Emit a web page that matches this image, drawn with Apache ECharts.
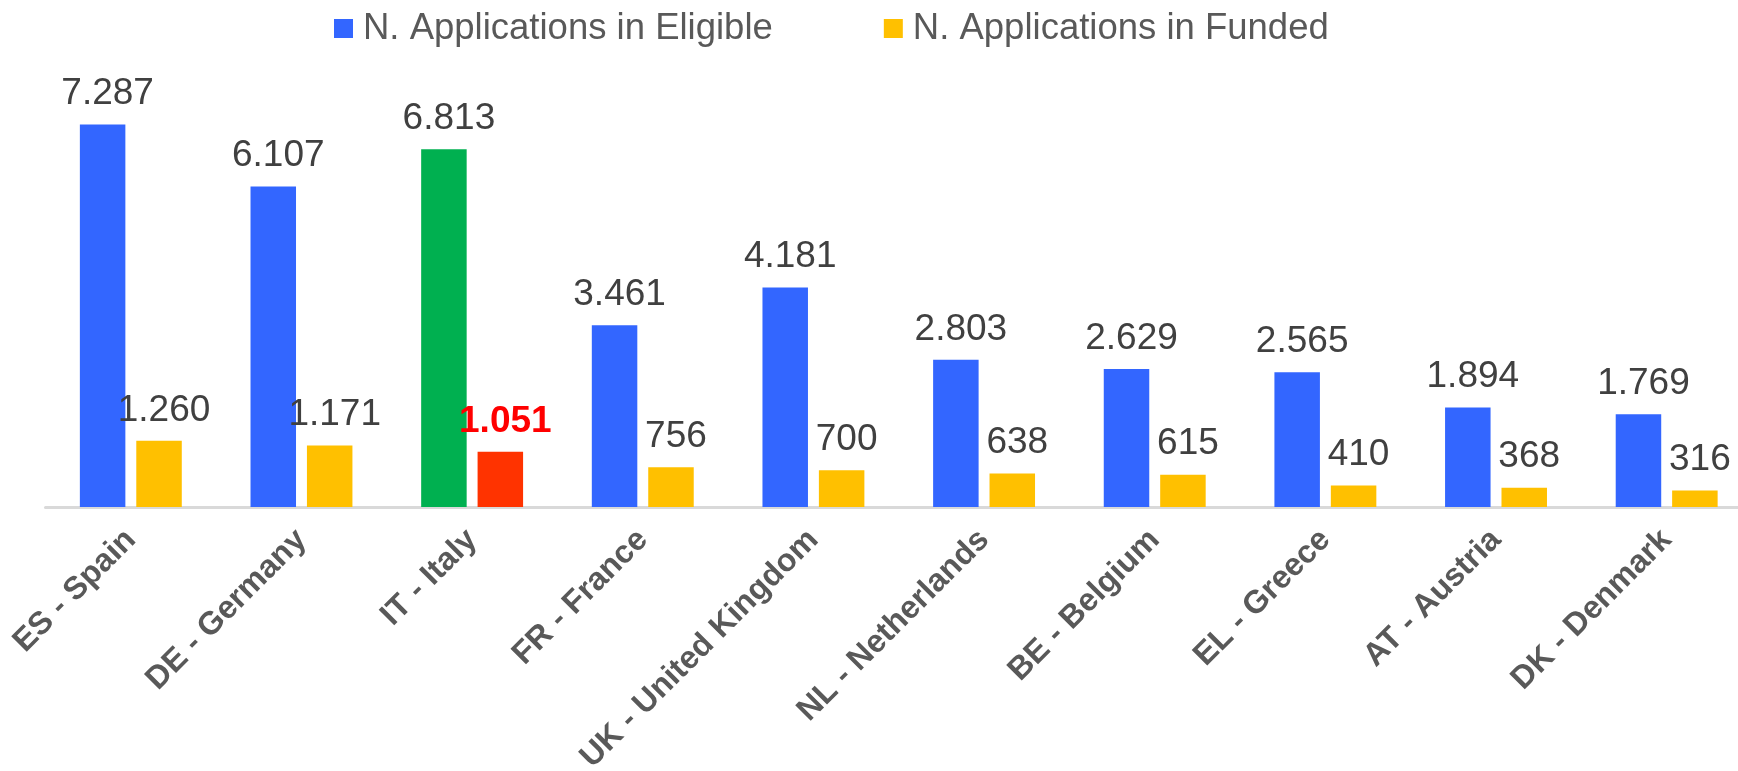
<!DOCTYPE html>
<html>
<head>
<meta charset="utf-8">
<title>Applications</title>
<script src="https://cdn.jsdelivr.net/npm/echarts@6/dist/echarts.min.js"></script>
<style>
    html, body { margin: 0; padding: 0; background: #fff; }
    #chart { width: 1738px; height: 771px; }
</style>
</head>
<body>
<div id="chart"></div>
<script>
//数据
var countries = ['ES - Spain', 'DE - Germany', 'IT - Italy', 'FR - France', 'UK - United Kingdom',
    'NL - Netherlands', 'BE - Belgium', 'EL - Greece', 'AT - Austria', 'DK - Denmark'];
var eligible = [7287, 6107, 6813, 3461, 4181, 2803, 2629, 2565, 1894, 1769];
var funded = [1260, 1171, 1051, 756, 700, 638, 615, 410, 368, 316];
var seriesNames = ['N. Applications in Eligible', 'N. Applications in Funded'];
var highlight = 'IT - Italy';

//初始化图表
var myChart = echarts.init(document.getElementById('chart'));

//千位分隔符用点
function fmt(v){
    return String(v).replace(/\B(?=(\d{3})+(?!\d))/g, '.');
}

var eligibleData = eligible.map(function(v, i){
    if (countries[i] == highlight) {
        return {value: v, itemStyle: {color: '#00B050'}};
    }
    return v;
});

var fundedData = funded.map(function(v, i){
    if (countries[i] == highlight) {
        return {
            value: v,
            itemStyle: {color: '#FF3300'},
            label: {color: '#FF0000', fontWeight: 'bold'}
        };
    }
    return v;
});

var labelStyle = {
    show: true,
    position: 'top',
    distance: 12,
    offset: [5, 0],
    fontFamily: 'Liberation Sans',
    fontSize: 37,
    color: '#404040',
    formatter: function(p){ return fmt(p.value); }
};

option = {
    animation: false,
    textStyle: {fontFamily: 'Liberation Sans'},
    legend: {
        data: seriesNames,
        left: 329,
        top: 5,
        icon: 'rect',
        itemWidth: 19,
        itemHeight: 19,
        itemGap: 111,
        textStyle: {
            fontFamily: 'Liberation Sans',
            fontSize: 36.5,
            color: '#595959',
            padding: [0, 0, 0, 5]
        }
    },
    grid: {
        left: 45.5,
        right: -14,
        top: 87,
        bottom: 264,
        containLabel: false,
        outerBoundsMode: 'none'
    },
    xAxis: [
        {
            type: 'category',
            data: countries,
            axisTick: {show: false},
            axisLine: {lineStyle: {color: '#D9D9D9', width: 3}},
            axisLabel: {
                rotate: 45,
                interval: 0,
                margin: 28,
                //往右下挪一点
                padding: [20, 0, 0, 0],
                fontFamily: 'Liberation Sans',
                fontSize: 32,
                fontWeight: 'bold',
                color: '#595959'
            }
        }
    ],
    yAxis: [
        {
            type: 'value',
            min: 0,
            max: 8000,
            show: false,
            splitLine: {show: false}
        }
    ],
    series: [
        {
            name: seriesNames[0],
            type: 'bar',
            barWidth: 45.5,
            barGap: '24%',
            data: eligibleData,
            itemStyle: {color: '#3366FF'},
            label: labelStyle
        },
        {
            name: seriesNames[1],
            type: 'bar',
            barWidth: 45.5,
            data: fundedData,
            itemStyle: {color: '#FFC000'},
            label: labelStyle
        }
    ]
};

myChart.setOption(option);
</script>
</body>
</html>
